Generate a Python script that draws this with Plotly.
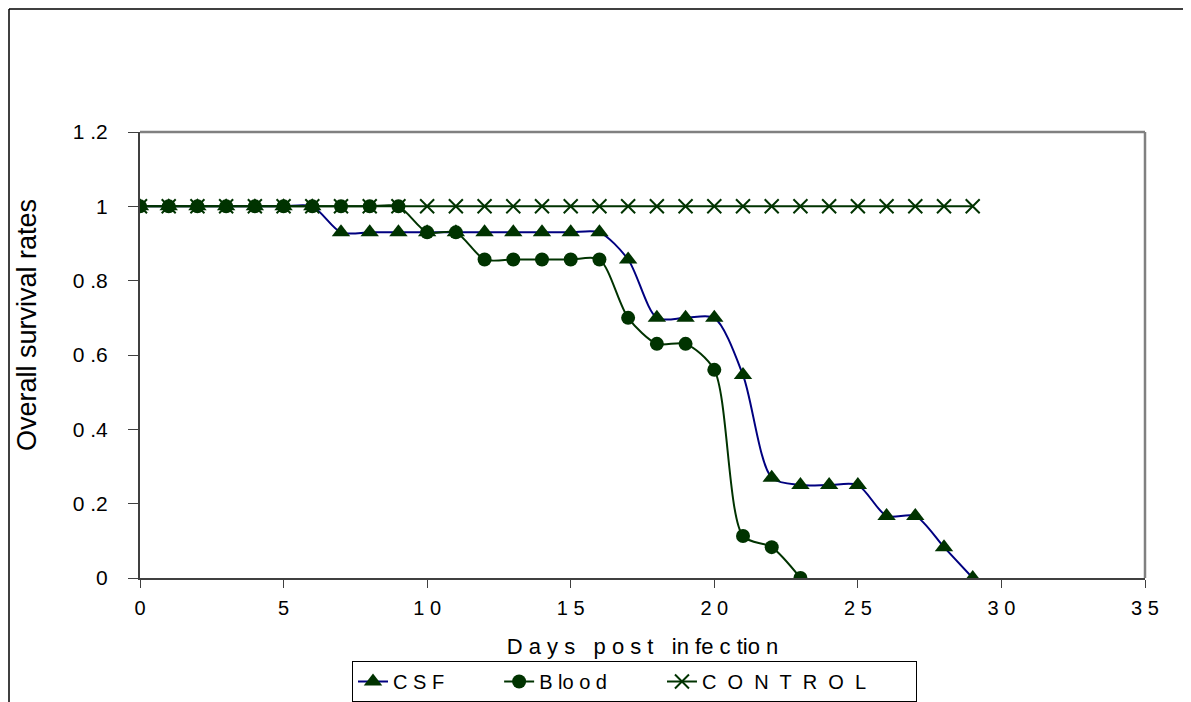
import plotly.graph_objects as go

days_csf = list(range(0, 30))
csf = [1, 1, 1, 1, 1, 1, 1, 0.93, 0.93, 0.93, 0.93, 0.93, 0.93, 0.93, 0.93, 0.93, 0.93,
       0.857, 0.70, 0.70, 0.70, 0.546, 0.27, 0.25, 0.25, 0.25, 0.167, 0.167, 0.083, 0]
days_blood = list(range(0, 24))
blood = [1, 1, 1, 1, 1, 1, 1, 1, 1, 1, 0.93, 0.93, 0.857, 0.857, 0.857, 0.857, 0.857,
         0.70, 0.63, 0.63, 0.56, 0.113, 0.083, 0]
days_control = list(range(0, 30))
control = [1] * 30

NB = "\u00a0"
series_names = ["C S F" + NB * 9, "B lo o d" + NB * 9,
                "C" + NB + " O" + NB + " N" + NB + " T" + NB + " R" + NB + " O" + NB + " L" + NB * 8]
x_tickvals = [0, 5, 10, 15, 20, 25, 30, 35]
x_ticktext = ["0", "5", "1 0", "1 5", "2 0", "2 5", "3 0", "3 5"]
y_tickvals = [0, 0.2, 0.4, 0.6, 0.8, 1.0, 1.2]
y_ticktext = ["0", "0 .2", "0 .4", "0 .6", "0 .8", "1", "1 .2"]
x_title = "D a y s" + NB * 2 + " p o s t" + NB * 2 + " in fe c tio n"
y_title = "Overall survival rates"

mk = "#003300"
font = "Liberation Sans, Arial, sans-serif"

L, T, PW, PH = 132, 124, 1005, 446
W, H = 1191, 702

fig = go.Figure()
fig.add_trace(go.Scatter(
    x=days_csf, y=csf, name=series_names[0], mode="lines+markers",
    line=dict(color="#000080", width=2, shape="spline", smoothing=0.8),
    marker=dict(symbol="triangle-up", size=16, color=mk)))
fig.add_trace(go.Scatter(
    x=days_blood, y=blood, name=series_names[1], mode="lines+markers",
    line=dict(color=mk, width=2, shape="spline", smoothing=0.8),
    marker=dict(symbol="circle", size=14, color=mk)))
fig.add_trace(go.Scatter(
    x=days_control, y=control, name=series_names[2], mode="lines+markers",
    line=dict(color=mk, width=2),
    marker=dict(symbol="x-thin", size=14, color=mk, line=dict(color=mk, width=2))))

fig.update_layout(
    width=W, height=H,
    margin=dict(l=L, r=W - L - PW, t=T, b=H - T - PH),
    paper_bgcolor="white", plot_bgcolor="white",
    font=dict(family=font, size=20, color="black"),
    showlegend=True,
    legend=dict(orientation="h", xref="paper", x=(626.5 - L) / PW, xanchor="center",
                yref="container", y=(H - 653) / H, yanchor="top",
                bordercolor="black", borderwidth=1,
                font=dict(size=20, family=font), itemwidth=30, tracegroupgap=0),
    xaxis=dict(range=[0, 35], tickvals=x_tickvals, ticktext=x_ticktext, automargin=False,
               showgrid=False, zeroline=False, showline=True, linecolor="#404040", linewidth=2,
               ticks="outside", ticklen=8, tickcolor="#404040", ticklabelstandoff=3,
               tickfont=dict(size=20),
               title=dict(text=x_title, font=dict(size=22), standoff=21)),
    yaxis=dict(range=[0, 1.2], tickvals=y_tickvals, ticktext=y_ticktext, automargin=False,
               showgrid=False, zeroline=False, showline=True, linecolor="#404040", linewidth=2,
               ticks="outside", ticklen=10, tickcolor="#404040", ticklabelstandoff=16,
               tickfont=dict(size=21)),
    annotations=[dict(text=y_title, textangle=-90, xref="paper", yref="paper",
                      x=(19 - L) / PW, y=1 - (317 - T) / PH, xanchor="center", yanchor="middle",
                      showarrow=False, font=dict(size=27, family=font))],
    shapes=[
        dict(type="line", xref="paper", yref="paper", x0=0, x1=1, y0=1, y1=1,
             line=dict(color="#808080", width=2.5)),
        dict(type="line", xref="paper", yref="paper", x0=1, x1=1, y0=0, y1=1,
             line=dict(color="#808080", width=2.5)),
        dict(type="line", xref="paper", yref="paper",
             x0=(-L + 1) / PW, x1=(W - L) / PW, y0=1 + (T - 1) / PH, y1=1 + (T - 1) / PH,
             line=dict(color="black", width=1.5)),
        dict(type="line", xref="paper", yref="paper",
             x0=(-L + 1) / PW, x1=(-L + 1) / PW, y0=1 + (T - 1) / PH, y1=-(H - T - PH) / PH,
             line=dict(color="black", width=1.5)),
    ],
)
fig.write_html("out.html")
